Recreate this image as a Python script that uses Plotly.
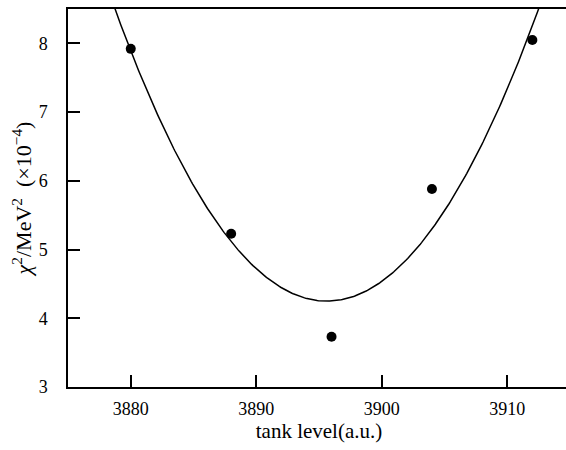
import numpy as np
import plotly.graph_objects as go

# data
tank_level = [3880, 3888, 3896, 3904, 3912]
chi2 = [7.92, 5.23, 3.73, 5.88, 8.05]
x_ticks = [3880, 3890, 3900, 3910]
y_ticks = [3, 4, 5, 6, 7, 8]

# quadratic least-squares fit of the measured points (as in the reference)
coef = np.polyfit(tank_level, chi2, 2)
xf = np.linspace(3875, 3915, 400)
yf = np.polyval(coef, xf)

FONT = "Liberation Serif, Times New Roman, serif"

fig = go.Figure()
fig.add_trace(go.Scatter(x=xf, y=yf, mode="lines",
                         line=dict(color="black", width=1.5),
                         hoverinfo="skip", showlegend=False))
fig.add_trace(go.Scatter(x=tank_level, y=chi2, mode="markers",
                         marker=dict(color="black", size=10),
                         showlegend=False, cliponaxis=False))

fig.update_layout(
    width=570, height=450,
    margin=dict(l=68, r=0, t=9, b=63),
    paper_bgcolor="white", plot_bgcolor="white",
    font=dict(family=FONT, size=18, color="black"),
    xaxis=dict(range=[3875, 3915], tickvals=x_ticks,
               ticks="inside", ticklen=12, tickwidth=1.5, tickcolor="black",
               tickfont=dict(family=FONT, size=18),
               showline=True, linecolor="black", linewidth=1.5, mirror=True,
               showgrid=False, zeroline=False, ticklabelstandoff=5,
               title=dict(text="tank level(a.u.)", standoff=0,
                          font=dict(family=FONT, size=21))),
    yaxis=dict(range=[3, 8.5], tickvals=y_ticks,
               ticks="inside", ticklen=12, tickwidth=1.5, tickcolor="black",
               tickfont=dict(family=FONT, size=18),
               showline=True, linecolor="black", linewidth=1.5, mirror=False,
               showgrid=False, zeroline=False, ticklabelstandoff=15,
               title=dict(text="<i>χ</i><sup>2</sup>/MeV<sup>2</sup>  (×10<sup>−4</sup>)",
                          standoff=1, font=dict(family=FONT, size=22))),
)

fig.write_html(
    "out.html",
    config={"displayModeBar": False},
    post_script="document.body.style.margin='0';document.documentElement.style.overflow='hidden';",
)
